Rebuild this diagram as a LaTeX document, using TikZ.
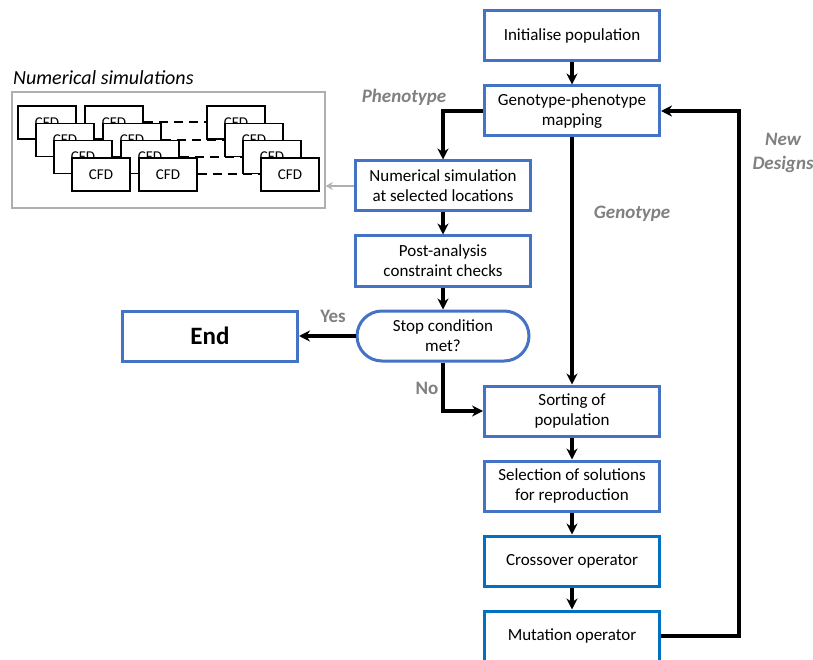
\documentclass[tikz,border=0pt]{standalone}
\usepackage{fontspec}
\setmainfont{Carlito}
\usetikzlibrary{shapes.geometric, arrows, arrows.meta}
\definecolor{popblue}{RGB}{68,114,196}
\definecolor{opblue}{RGB}{0,112,192}
\definecolor{tagGrey}{RGB}{128,128,128}
\definecolor{frameGrey}{RGB}{175,175,175}
\tikzstyle{process} = [rectangle, minimum width=175pt, minimum height=50pt, text centered, align=center, draw=popblue, line width=3pt, fill=white]
\tikzstyle{operator} = [process, draw=opblue]
\tikzstyle{decision} = [rectangle, rounded corners=25pt, minimum width=172pt, minimum height=50pt, text centered, align=center, draw=popblue, line width=3pt, fill=white]
\tikzstyle{cfd} = [rectangle, minimum width=58pt, minimum height=33pt, text centered, draw=black, line width=1.5pt, fill=white, font=\fontsize{15}{18}\selectfont]
\tikzstyle{simdash} = [line width=2pt, dash pattern=on 9pt off 6pt]
\tikzstyle{tag} = [text=tagGrey, inner sep=0pt, font=\bfseries\itshape\fontsize{19}{24}\selectfont]
\tikzstyle{choice} = [text=tagGrey, inner sep=0pt, font=\bfseries\fontsize{19}{24}\selectfont]
\tikzstyle{arrow} = [line width=3.5pt,->,>={Stealth[length=11pt,width=11pt]}]
\tikzstyle{simarrow} = [line width=1.5pt,->,>={Stealth[length=7pt,width=8pt,open]}, draw=frameGrey]

\begin{document}
\begin{tikzpicture}[x=1pt, y=1pt, node distance=75pt, font=\fontsize{17}{20}\selectfont]
\useasboundingbox (0,0) rectangle (813,-660);

    % Nodes
    \node (init) [process] at (572,-36) {Initialise population};
    \node (gpmap) [process, below of=init] {Genotype-phenotype\\mapping};
    \node (numsim) [process, below of=gpmap, xshift=-129pt] {Numerical simulation\\at selected locations};
    \node (post) [process, below of=numsim] {Post-analysis\\constraint checks};
    \node (stop) [decision, below of=post] {Stop condition\\met?};
    \node (end) [process, left of=stop, xshift=-158pt, font=\bfseries\fontsize{25}{28}\selectfont] {End};
    \node (sort) [process, below of=stop, xshift=129pt] {Sorting of\\population};
    \node (select) [process, below of=sort] {Selection of solutions\\for reproduction};
    \node (cross) [operator, below of=select] {Crossover operator};
    \node (mutate) [operator, below of=cross] {Mutation operator};

    % Numerical simulations
    \node (simbox) [rectangle, draw=frameGrey, line width=1.5pt, minimum width=313pt, minimum height=116pt] at (168.5,-150) {};
    \node (simtitle) [anchor=west, inner sep=0pt, font=\itshape\fontsize{20}{24}\selectfont] at (13,-78) {Numerical simulations};
    \foreach \row in {0,...,3} {
        \node (cfd-\row-1) [cfd] at ({47+18*\row},{-122.5-17.3*\row}) {CFD};
        \node (cfd-\row-2) [cfd] at ({114+18*\row},{-122.5-17.3*\row}) {CFD};
        \node (cfd-\row-3) [cfd] at ({236+18*\row},{-122.5-17.3*\row}) {CFD};
        \draw [simdash] (cfd-\row-2) -- (cfd-\row-3);
    }

    % Labels
    \node (phenotag) [tag] at (404,-97) {Phenotype};
    \node (genotag) [tag] at (632,-214) {Genotype};
    \node (designtag) [tag, align=center] at (783,-153) {New\\Designs};
    \node (yestag) [choice] at (333,-316) {Yes};
    \node (notag) [choice] at (427,-388) {No};

    % Arrows
    \draw [arrow] (init) -- (gpmap);
    \draw [arrow] (gpmap.west) -| (numsim.north);
    \draw [arrow] (gpmap) -- (sort);
    \draw [arrow] (numsim) -- (post);
    \draw [arrow] (post) -- (stop);
    \draw [arrow] (stop) -- (end);
    \draw [arrow] (stop.south) |- (sort.west);
    \draw [arrow] (sort) -- (select);
    \draw [arrow] (select) -- (cross);
    \draw [arrow] (cross) -- (mutate);
    \draw [arrow] (mutate.east) -- ++(78pt,0) |- (gpmap.east);
    \draw [simarrow] (numsim.west) -- (simbox.east |- numsim.west);

\end{tikzpicture}
\end{document}
